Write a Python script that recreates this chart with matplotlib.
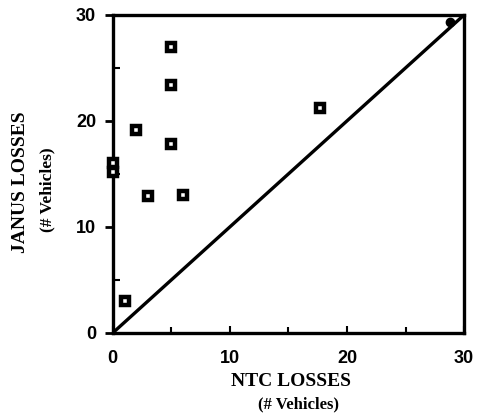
import matplotlib

matplotlib.use("Agg")
import matplotlib.pyplot as plt
from matplotlib.ticker import MultipleLocator

# NTC vs JANUS losses per engagement (# vehicles)
ntc_losses = [0, 0, 1, 2, 3, 5, 5, 5, 6, 17.7]
janus_losses = [16, 15.2, 3, 19.1, 12.9, 27, 23.4, 17.8, 13, 21.2]
# point lying on the equality line
match_ntc = [28.8]
match_janus = [29.3]
# y = x reference line
diag = [0, 30]

tick_values = [0, 10, 20, 30]
tick_labels = ["0", "10", "20", "30"]


def main() -> None:
    fig = plt.figure(figsize=(4.78, 4.13), dpi=100)
    ax = fig.add_axes([0.236, 0.194, 0.735, 0.77])

    ax.plot(diag, diag, color="black", linewidth=2.4, zorder=2)
    ax.plot(
        ntc_losses, janus_losses, linestyle="none", marker="s",
        markersize=5.6, markerfacecolor="white", markeredgecolor="black",
        markeredgewidth=3.2, zorder=3, clip_on=False,
    )
    ax.plot(
        match_ntc, match_janus, linestyle="none", marker="o",
        markersize=6, color="black", zorder=3,
    )

    ax.set_xlim(0, 30)
    ax.set_ylim(0, 30)
    ax.set_xticks(tick_values)
    ax.set_yticks(tick_values)
    ax.set_xticklabels(tick_labels)
    ax.set_yticklabels(tick_labels)
    ax.xaxis.set_minor_locator(MultipleLocator(5))
    ax.yaxis.set_minor_locator(MultipleLocator(5))

    for side in ax.spines.values():
        side.set_linewidth(2.4)

    for label in ax.get_xticklabels() + ax.get_yticklabels():
        label.set_fontfamily("Liberation Sans")
        label.set_fontweight("bold")
        label.set_fontsize(13)

    ax.tick_params(axis="y", which="major", direction="out", length=6, width=2, pad=6)
    ax.tick_params(axis="y", which="minor", direction="in", length=5, width=1.5)
    ax.tick_params(axis="x", which="major", direction="in", length=5, width=1.5, pad=12)
    ax.tick_params(axis="x", which="minor", direction="in", length=4, width=1.5)

    label_font = {"family": "Liberation Serif", "weight": "bold"}
    fig.text(0.608, 0.077, "NTC LOSSES", ha="center", va="center", fontsize=14, **label_font)
    fig.text(0.624, 0.022, "(# Vehicles)", ha="center", va="center", fontsize=12, **label_font)
    fig.text(0.042, 0.559, "JANUS LOSSES", ha="center", va="center", rotation=90, fontsize=14, **label_font)
    fig.text(0.100, 0.540, "(# Vehicles)", ha="center", va="center", rotation=90, fontsize=12.5, **label_font)

    fig.savefig("out.png", dpi=100)
    plt.close(fig)


if __name__ == "__main__":
    main()
